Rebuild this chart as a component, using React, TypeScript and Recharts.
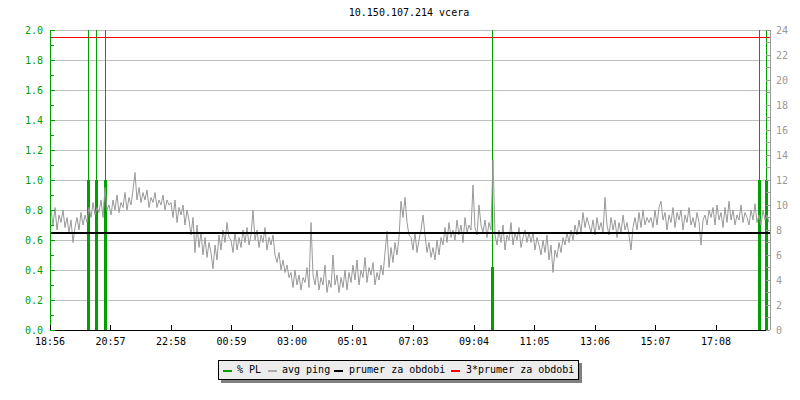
import React from "react";
import { ComposedChart, Line, XAxis, YAxis, CartesianGrid, ReferenceLine } from "recharts";

const chartTitle = "10.150.107.214 vcera";

const timeTickMinutes = [0, 121, 242, 363, 484, 605, 727, 848, 969, 1090, 1211, 1332];
const timeTickLabels = ["18:56", "20:57", "22:58", "00:59", "03:00", "05:01", "07:03", "09:04", "11:05", "13:06", "15:07", "17:08"];

const plTicks = [0, 0.1, 0.2, 0.3, 0.4, 0.5, 0.6, 0.7, 0.8, 0.9, 1.0, 1.1, 1.2, 1.3, 1.4, 1.5, 1.6, 1.7, 1.8, 1.9, 2.0];
const plGridValues = [0.2, 0.4, 0.6, 0.8, 1.0, 1.2, 1.4, 1.6, 1.8, 2.0];
const pingTicks = [0, 1, 2, 3, 4, 5, 6, 7, 8, 9, 10, 11, 12, 13, 14, 15, 16, 17, 18, 19, 20, 21, 22, 23, 24];

const pingStepMinutes = 4;
const avgPingMs = [
  9.6, 8.4, 9.8, 8.0, 9.2, 8.6, 9.6, 8.2, 9.0, 7.8, 8.8, 7.0, 8.2, 9.0, 8.0, 9.4, 8.4, 9.2, 8.6, 9.8, 9.0, 10.2, 9.2, 9.8, 9.4, 10.4, 9.0, 11.4, 9.6, 10.0,
  9.2, 10.4, 9.6, 10.8, 9.4, 10.2, 9.8, 11.0, 9.6, 10.6, 10.0, 11.2, 12.6, 10.4, 11.4, 10.2, 11.0, 10.4, 11.2, 9.8, 10.6, 10.2, 11.0, 9.8, 10.4, 10.0, 10.8, 9.6, 10.4, 10.0,
  10.2, 9.0, 10.4, 8.6, 9.8, 9.2, 10.0, 8.4, 9.6, 8.8, 7.6, 9.0, 6.2, 8.4, 6.6, 7.8, 6.0, 7.4, 5.8, 7.0, 6.2, 4.9, 6.8, 5.6, 7.6, 6.4, 8.0, 7.0, 8.6, 7.4,
  7.2, 6.2, 7.8, 6.4, 7.4, 6.6, 8.0, 7.0, 8.2, 6.8, 7.6, 9.6, 7.2, 8.0, 6.6, 7.6, 7.0, 8.2, 6.4, 7.4, 6.8, 7.6, 6.0, 5.4, 6.2, 4.8, 5.6, 4.6, 5.2, 4.2,
  4.6, 3.4, 4.8, 3.6, 4.4, 3.2, 4.2, 3.8, 5.0, 3.4, 8.6, 4.4, 3.6, 4.8, 3.2, 4.2, 3.6, 5.2, 3.0, 4.0, 3.4, 6.0, 3.6, 4.4, 3.0, 4.2, 3.4, 4.8, 3.2, 4.6,
  3.8, 5.2, 4.0, 5.6, 3.6, 4.8, 4.2, 5.8, 3.8, 5.0, 4.4, 5.4, 3.6, 4.6, 4.0, 5.2, 4.4, 6.2, 7.9, 5.0, 6.6, 5.4, 7.0, 6.0, 7.4, 10.3, 9.0, 10.6, 8.6, 7.6,
  7.4, 6.4, 7.8, 6.2, 7.2, 8.0, 9.2, 7.6, 6.2, 7.0, 5.8, 6.6, 5.6, 7.2, 6.0, 7.4, 6.8, 8.2, 7.0, 8.6, 7.4, 8.0, 7.2, 8.8, 7.6, 8.4, 7.0, 9.0, 7.8, 8.4,
  8.0, 11.6, 8.2, 7.6, 10.0, 8.4, 7.8, 8.8, 7.4, 8.6, 8.0, 13.6, 7.6, 6.8, 8.0, 7.0, 8.4, 6.4, 7.6, 7.2, 8.6, 6.8, 7.8, 7.2, 8.2, 6.6, 7.4, 8.0, 7.0, 7.8,
  7.0, 7.8, 6.4, 7.4, 6.8, 6.0, 7.2, 6.2, 7.6, 5.6, 6.8, 4.6, 6.4, 5.8, 7.0, 6.2, 7.4, 6.8, 7.8, 7.0, 8.0, 7.2, 8.4, 7.6, 8.8, 7.8, 9.4, 8.2, 9.0, 8.4,
  7.8, 8.8, 7.6, 9.0, 8.0, 8.6, 7.8, 10.6, 8.4, 7.6, 9.0, 8.0, 8.8, 7.4, 8.6, 7.8, 9.2, 8.0, 8.6, 7.6, 6.4, 8.2, 9.0, 8.0, 9.4, 8.2, 9.6, 8.4, 9.0, 8.6,
  9.0, 8.2, 9.6, 8.4, 9.8, 10.3, 8.8, 9.4, 8.0, 9.2, 8.6, 9.8, 8.2, 9.4, 8.8, 9.6, 8.0, 9.2, 8.6, 9.8, 8.4, 9.0, 8.2, 9.4, 8.6, 6.8, 8.8, 9.2, 8.4, 9.6,
  9.0, 9.8, 8.4, 10.0, 8.8, 9.4, 8.2, 9.8, 8.6, 10.3, 8.8, 9.6, 8.4, 9.2, 8.8, 10.0, 8.6, 9.4, 9.0, 8.4, 9.6, 8.8, 10.1, 8.6, 9.2, 8.4, 9.6, 8.8, 9.2, 8.6,
];

const lossMinutes = [76, 92, 110, 885, 1418, 1433];
const lossLowPct = [1.0, 1.0, 1.0, 0.42, 1.0, 1.0];
const lossHighPct = [2.0, 2.0, 2.0, 2.0, 2.0, 2.0];

const periodAvgMs = 7.8;
const periodTripleAvgMs = 23.4;

const GREEN = "#00a000";
const GRAY = "#999999";
const FONT = "'DejaVu Sans Mono', monospace";

type Row = { t: number; ping?: number; plLo?: number; plHi?: number };
const rows: Row[] = [];
avgPingMs.forEach((v, i) => rows.push({ t: i * pingStepMinutes + pingStepMinutes / 2, ping: v }));
lossMinutes.forEach((m, i) => {
  rows.push({ t: m, plLo: 0, plHi: 0 });
  rows.push({ t: m, plLo: lossLowPct[i], plHi: lossHighPct[i] });
});
rows.sort((a, b) => a.t - b.t);

const LeftTick = (p: any) => {
  const { x, y, payload } = p;
  const v = payload.value as number;
  const major = Math.round(v * 10) % 2 === 0;
  return (
    <g>
      <line x1={x} x2={x + (major ? 5 : 4)} y1={y} y2={y} stroke={GREEN} shapeRendering="crispEdges" />
      {major && (
        <text x={x - 7} y={y} dy="0.35em" textAnchor="end" fill={GREEN} fontSize={10} fontFamily={FONT}>
          {v.toFixed(1)}
        </text>
      )}
    </g>
  );
};

const RightTick = (p: any) => {
  const { x, y, payload } = p;
  const v = payload.value as number;
  const major = v % 2 === 0;
  return (
    <g>
      <line x1={x - 4} x2={x} y1={y} y2={y} stroke={GRAY} shapeRendering="crispEdges" />
      {major && (
        <text x={x + 6} y={y} dy="0.35em" textAnchor="start" fill={GRAY} fontSize={10} fontFamily={FONT}>
          {v}
        </text>
      )}
    </g>
  );
};

const BottomTick = (p: any) => {
  const { x, y, payload } = p;
  const idx = timeTickMinutes.indexOf(payload.value);
  return (
    <g>
      <line x1={x} x2={x} y1={y - 5} y2={y} stroke="#000" shapeRendering="crispEdges" />
      <text x={x} y={y + 11} dy="0.35em" textAnchor="middle" fill="#000" fontSize={10} fontFamily={FONT}>
        {timeTickLabels[idx]}
      </text>
    </g>
  );
};

const legendItems = [
  { label: "% PL", color: GREEN, sx: 4, tx: 18 },
  { label: "avg ping", color: "#aaaaaa", sx: 49, tx: 63 },
  { label: "prumer za obdobi", color: "#000000", sx: 115, tx: 130 },
  { label: "3*prumer za obdobi", color: "#ff0000", sx: 232, tx: 247 },
];

export default function App() {
  return (
    <div style={{ position: "absolute", left: 0, top: 0, width: 800, height: 400, background: "#fff" }}>
      <div
        style={{
          position: "absolute",
          left: 0,
          top: 6,
          width: 818,
          textAlign: "center",
          fontFamily: FONT,
          fontSize: 10,
          lineHeight: "14px",
          color: "#000",
        }}
      >
        {chartTitle}
      </div>
      <ComposedChart width={800} height={400} data={rows} margin={{ top: 30, right: 0, bottom: 50, left: 0 }}>
        <CartesianGrid
          yAxisId="left"
          vertical={false}
          horizontalValues={plGridValues}
          stroke="#c0c0c0"
          shapeRendering="crispEdges"
        />
        <XAxis
          dataKey="t"
          type="number"
          domain={[0, 1440]}
          ticks={timeTickMinutes}
          interval={0}
          height={20}
          tickSize={0}
          tickMargin={0}
          tick={<BottomTick />}
          axisLine={{ stroke: "#000", shapeRendering: "crispEdges" }}
          tickLine={false}
        />
        <YAxis
          yAxisId="left"
          orientation="left"
          width={50}
          domain={[0, 2]}
          ticks={plTicks}
          interval={0}
          tickSize={0}
          tickMargin={0}
          tick={<LeftTick />}
          axisLine={{ stroke: GREEN, shapeRendering: "crispEdges" }}
          tickLine={false}
          allowDataOverflow
        />
        <YAxis
          yAxisId="right"
          orientation="right"
          width={30}
          domain={[0, 24]}
          ticks={pingTicks}
          interval={0}
          tickSize={0}
          tickMargin={0}
          tick={<RightTick />}
          axisLine={{ stroke: GRAY, shapeRendering: "crispEdges" }}
          tickLine={false}
          allowDataOverflow
        />
        <Line
          yAxisId="left"
          dataKey="plHi"
          stroke={GREEN}
          strokeWidth={1}
          dot={false}
          activeDot={false}
          connectNulls={false}
          isAnimationActive={false}
          type="linear"
          shapeRendering="crispEdges"
        />
        <Line
          yAxisId="left"
          dataKey="plLo"
          stroke={GREEN}
          strokeWidth={3}
          dot={false}
          activeDot={false}
          connectNulls={false}
          isAnimationActive={false}
          type="linear"
          shapeRendering="crispEdges"
        />
        <Line
          yAxisId="right"
          dataKey="ping"
          stroke={GRAY}
          strokeWidth={1}
          dot={false}
          activeDot={false}
          connectNulls
          isAnimationActive={false}
          type="linear"
        />
        <ReferenceLine yAxisId="right" y={periodAvgMs} stroke="#000" strokeWidth={2} shapeRendering="crispEdges" />
        <ReferenceLine yAxisId="right" y={periodTripleAvgMs} stroke="#ff0000" strokeWidth={1} shapeRendering="crispEdges" />
      </ComposedChart>
      <div
        style={{
          position: "absolute",
          left: 218,
          top: 360,
          width: 361,
          height: 20,
          boxSizing: "border-box",
          border: "1px solid #000",
          background: "#ececec",
          boxShadow: "3px 3px 0 #808080",
          fontFamily: FONT,
          fontSize: 10,
          color: "#000",
        }}
      >
        {legendItems.map((it) => (
          <React.Fragment key={it.label}>
            <div style={{ position: "absolute", left: it.sx, top: 9, width: 9, height: 2, background: it.color }} />
            <div style={{ position: "absolute", left: it.tx, top: 2, lineHeight: "14px", whiteSpace: "pre" }}>{it.label}</div>
          </React.Fragment>
        ))}
      </div>
    </div>
  );
}
